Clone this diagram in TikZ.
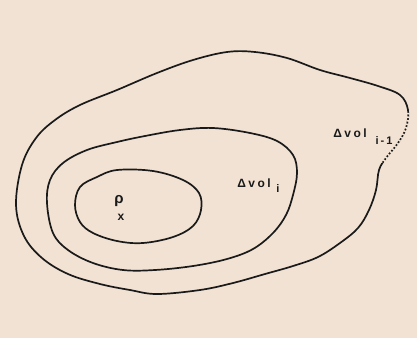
\documentclass[tikz,border=0pt]{standalone}
\usepackage{fontspec}
\setmainfont{Liberation Sans}
\definecolor{bgc}{HTML}{F2E2D3}
\definecolor{inkc}{HTML}{1A1A1A}
\begin{document}
\begin{tikzpicture}[x=1pt,y=-1pt,
  contour/.style={draw=inkc,line width=1.7pt,line join=round},
  lbl/.style={inner sep=0pt,text=inkc,font=\bfseries\fontsize{12}{14}\selectfont},
  sublbl/.style={inner sep=0pt,text=inkc,font=\bfseries\fontsize{11}{13}\selectfont}]
\fill[bgc] (0,0) rectangle (417,338);
\useasboundingbox (0,0) rectangle (417,338);
% outer contour
\def\outerpath{plot[smooth cycle,tension=0.6] coordinates {
 (16,205) (22,165) (36,138) (55,120) (80,105) (117,90) (157,73) (193,60)
 (227,52) (255,52) (287,58) (320,70) (350,78) (378,86) (400,95) (408,110)
 (406,128) (398,143) (386,158) (379,170) (376,190) (369,210) (358,228)
 (340,243) (318,257) (293,266) (265,274) (233,283) (200,290) (157,294)
 (130,290) (100,284) (68,274) (42,258) (24,236)}}
\draw[contour] \outerpath;
\begin{scope}
 \clip (380,112) rectangle (417,162);
 \draw[bgc,line width=2.5pt,dash pattern=on 1.6pt off 2pt] \outerpath;
\end{scope}
% middle contour
\draw[contour] plot[smooth cycle,tension=0.6] coordinates {
 (47,203) (50,180) (63,163) (87,150) (117,142) (145,136) (180,130) (213,128)
 (250,133) (277,141) (293,155) (297,173) (293,195) (286,215) (273,233)
 (253,249) (227,259) (193,266) (155,270) (123,270) (93,263) (68,250) (53,233)};
% inner contour
\draw[contour] plot[smooth cycle,tension=0.6] coordinates {
 (75,205) (80,187) (97,177) (117,170) (153,171) (183,180) (199,193) (201,210)
 (193,226) (173,237) (143,243) (117,241) (93,233) (80,222)};
% labels
\node[lbl,font=\bfseries\fontsize{15}{17}\selectfont] (rho) at (119,201) {ρ};
\node[sublbl,font=\bfseries\fontsize{12}{14}\selectfont] (rhosub) at (121,217) {x};
\node[lbl] (dvi) at (254,183) {Δ\kern2.5pt v\kern2.5pt o\kern2.5pt l};
\node[sublbl] (dvisub) at (278,189) {i};
\node[lbl] (dvim) at (350,133) {Δ\kern2.5pt v\kern2.5pt o\kern2.5pt l};
\node[sublbl] (dvimsub) at (384,141) {i\kern2pt -\kern2pt 1};
\end{tikzpicture}
\end{document}
